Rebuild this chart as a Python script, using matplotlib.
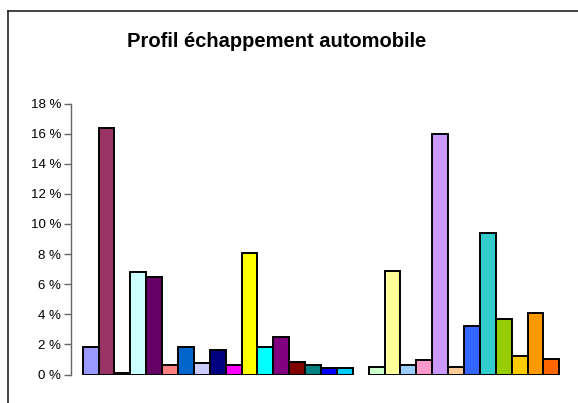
import matplotlib
matplotlib.use("Agg")
import matplotlib.pyplot as plt
from matplotlib.lines import Line2D

# Exhaust composition profile (percent of total), one bar per compound
values = [1.8, 16.4, 0.1, 6.8, 6.5, 0.65, 1.8, 0.75, 1.6, 0.65,
          8.1, 1.8, 2.5, 0.8, 0.65, 0.4, 0.4, 0.0,
          0.5, 6.9, 0.65, 0.95, 16.0, 0.5, 3.2, 9.4, 3.7, 1.2, 4.1, 1.05]
colors = ["#9999FF", "#993366", "#FFFFCC", "#CCFFFF", "#660066", "#FF8080",
          "#0066CC", "#CCCCFF", "#000080", "#FF00FF", "#FFFF00", "#00FFFF",
          "#800080", "#800000", "#008080", "#0000FF", "#00CCFF", "#CCFFFF",
          "#CCFFCC", "#FFFF99", "#99CCFF", "#FF99CC", "#CC99FF", "#FFCC99",
          "#3366FF", "#33CCCC", "#99CC00", "#FFCC00", "#FF9900", "#FF6600"]
yticks = [0, 2, 4, 6, 8, 10, 12, 14, 16, 18]
title = "Profil échappement automobile"

W, H = 578, 403
fig = plt.figure(figsize=(W / 100, H / 100), dpi=100)
plt.rcParams["font.family"] = ["Liberation Sans", "DejaVu Sans"]

# chart area border (left and top edges)
fig.add_artist(Line2D([8 / W, 8 / W], [0, 1 - 11 / H], transform=fig.transFigure,
                      color="#222222", lw=1.2))
fig.add_artist(Line2D([8 / W, 1], [1 - 11 / H, 1 - 11 / H], transform=fig.transFigure,
                      color="#222222", lw=1.2))

left, right = 71 / W, 571 / W
bottom, top = 1 - 374.5 / H, 1 - 103.5 / H
ax = fig.add_axes([left, bottom, right - left, top - bottom])

x = list(range(len(values)))
nz = [(i, v, c) for i, v, c in zip(x, values, colors) if v > 0]
ax.bar([i for i, _, _ in nz], [v for _, v, _ in nz], width=1.0,
       color=[c for _, _, c in nz], edgecolor="black", linewidth=1.4)

pad = 0.737
ax.set_xlim(-0.5 - pad, len(values) - 0.5 + pad)
ax.set_ylim(0, 18)
ax.set_yticks(yticks)
ax.set_yticklabels([f"{t} %" for t in yticks], fontsize=9.5, color="black")
ax.set_xticks([])
for s in ("top", "right", "bottom"):
    ax.spines[s].set_visible(False)
ax.spines["left"].set_color("#666666")
ax.spines["left"].set_linewidth(1.0)
ax.tick_params(axis="y", direction="out", length=5, width=1.0, color="#666666", pad=2)

fig.text(277 / W, 1 - 41.5 / H, title, ha="center", va="center",
         fontsize=14.5, fontweight="bold", color="black")

fig.savefig("out.png", dpi=100)
